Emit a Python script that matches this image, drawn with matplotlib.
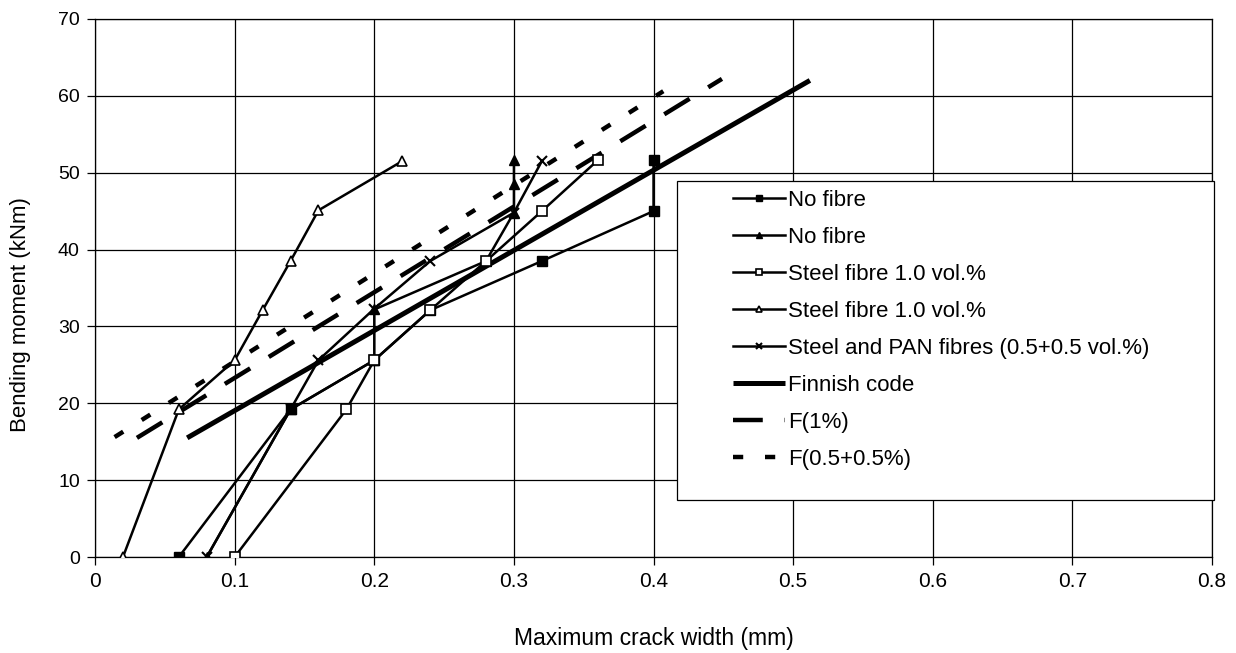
import matplotlib
matplotlib.use("Agg")
import matplotlib.pyplot as plt
from matplotlib.patches import Rectangle

plt.rcParams['font.family'] = ['Liberation Sans', 'DejaVu Sans']

# measured crack widths (mm) and bending moments (kNm)
nofibre1_w = [0.06, 0.14, 0.20, 0.24, 0.32, 0.40, 0.40]
nofibre1_m = [0.0, 19.2, 25.6, 32.1, 38.5, 45.0, 51.6]

nofibre2_w = [0.08, 0.14, 0.20, 0.20, 0.28, 0.30, 0.30, 0.30]
nofibre2_m = [0.0, 19.2, 25.6, 32.2, 38.5, 44.8, 48.5, 51.6]

steel1_w = [0.10, 0.18, 0.20, 0.24, 0.28, 0.32, 0.36]
steel1_m = [0.0, 19.2, 25.6, 32.1, 38.5, 45.0, 51.6]

steel2_w = [0.02, 0.06, 0.10, 0.12, 0.14, 0.16, 0.22]
steel2_m = [0.0, 19.2, 25.6, 32.1, 38.5, 45.1, 51.5]

pan_w = [0.08, 0.14, 0.16, 0.20, 0.24, 0.30, 0.32]
pan_m = [0.0, 19.2, 25.6, 32.3, 38.5, 44.8, 51.5]

# design curves
finnish_w = [0.066, 0.512]
finnish_m = [15.5, 62.0]
f1_w = [0.030, 0.449]
f1_m = [15.5, 62.2]
f55_w = [0.014, 0.407]
f55_m = [15.6, 60.6]

xticks = [0, 0.1, 0.2, 0.3, 0.4, 0.5, 0.6, 0.7, 0.8]
xticklabels = ['0', '0.1', '0.2', '0.3', '0.4', '0.5', '0.6', '0.7', '0.8']
yticks = [0, 10, 20, 30, 40, 50, 60, 70]

fig = plt.figure(figsize=(12.36, 6.53), dpi=100)
ax = fig.add_axes([0.0769, 0.147, 0.9037, 0.824])

lw = 1.8
ms = 6.5
ax.plot(nofibre1_w, nofibre1_m, color='black', lw=lw, marker='s', ms=ms,
        mfc='black', mec='black', label='No fibre', zorder=4)
ax.plot(nofibre2_w, nofibre2_m, color='black', lw=lw, marker='^', ms=ms,
        mfc='black', mec='black', label='No fibre', zorder=4)
ax.plot(steel1_w, steel1_m, color='black', lw=lw, marker='s', ms=ms + 1,
        mfc='white', mec='black', mew=1.2, label='Steel fibre 1.0 vol.%', zorder=5)
ax.plot(steel2_w, steel2_m, color='black', lw=lw, marker='^', ms=ms,
        mfc='white', mec='black', mew=1.2, label='Steel fibre 1.0 vol.%', zorder=5)
ax.plot(pan_w, pan_m, color='black', lw=lw, marker='x', ms=ms + 1, mew=1.5,
        label='Steel and PAN fibres (0.5+0.5 vol.%)', zorder=5)
ax.plot(finnish_w, finnish_m, color='black', lw=3.6, solid_capstyle='butt',
        label='Finnish code', zorder=3)
ax.plot(f1_w, f1_m, color='black', lw=3.2, dashes=(6.7, 4.9),
        dash_capstyle='butt', label='F(1%)', zorder=3)
ax.plot(f55_w, f55_m, color='black', lw=3.2, dashes=(2.3, 4.9),
        dash_capstyle='butt', label='F(0.5+0.5%)', zorder=3)

ax.set_xlim(0, 0.8)
ax.set_ylim(0, 70)
ax.set_xticks(xticks)
ax.set_xticklabels(xticklabels)
ax.set_yticks(yticks)
ax.grid(True, color='black', lw=0.9, zorder=0)
ax.set_axisbelow(True)
for s in ax.spines.values():
    s.set_linewidth(0.9)
ax.tick_params(direction='out', length=6, width=0.9)
ax.tick_params(axis='x', labelsize=15, pad=5)
ax.tick_params(axis='y', labelsize=14, pad=5)

ax.set_xlabel('Maximum crack width (mm)', fontsize=16.5, labelpad=26)
ax.set_ylabel('Bending moment (kNm)', fontsize=16)
ax.yaxis.set_label_coords(-0.057, 0.45)

# white box behind the legend, covering the grid
box = Rectangle((0.521, 0.106), 0.481, 0.593, transform=ax.transAxes,
                facecolor='white', edgecolor='black', lw=0.9,
                clip_on=False, zorder=8)
ax.add_patch(box)

leg = ax.legend(loc='upper left', bbox_to_anchor=(0.571, 0.682),
                fontsize=16, frameon=False, handlelength=2.35,
                handletextpad=0.12, labelspacing=0.72, borderpad=0,
                borderaxespad=0, markerscale=0.6)
leg.set_zorder(10)

fig.savefig('out.png', dpi=100)
